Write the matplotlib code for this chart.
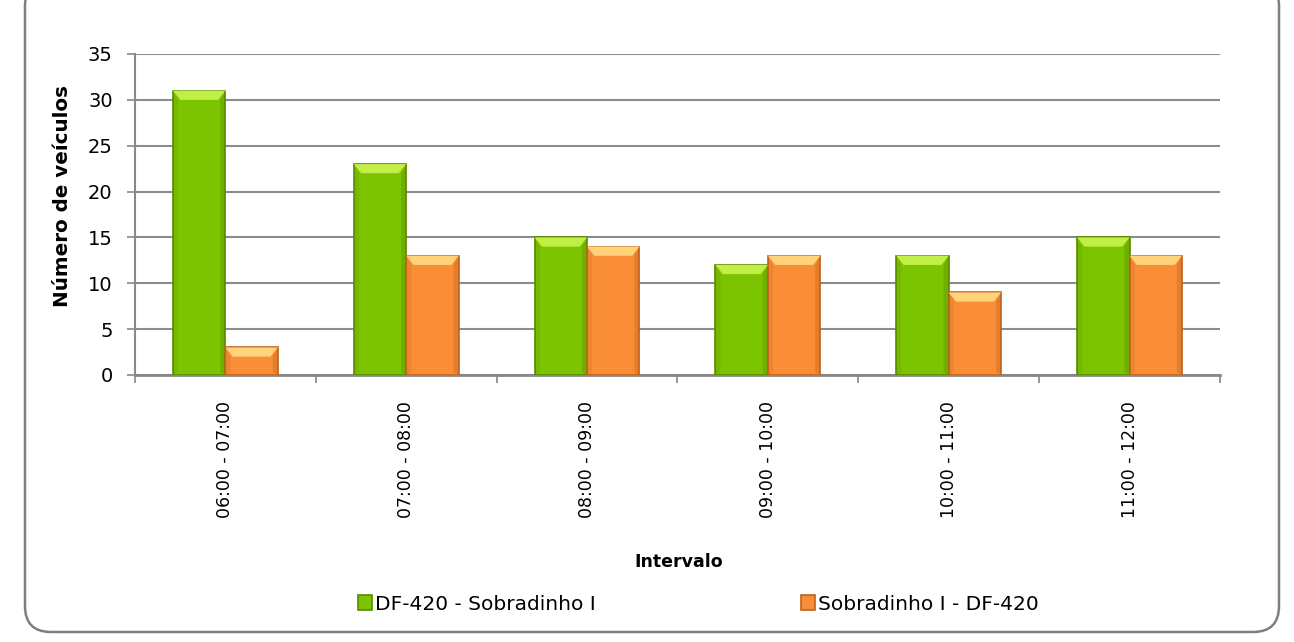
import matplotlib
matplotlib.use("Agg")
import matplotlib.pyplot as plt
import numpy as np
from matplotlib.patches import FancyBboxPatch, Polygon
from matplotlib.transforms import IdentityTransform

categories = ["06:00 - 07:00", "07:00 - 08:00", "08:00 - 09:00",
              "09:00 - 10:00", "10:00 - 11:00", "11:00 - 12:00"]
serie_a = [31, 23, 15, 12, 13, 15]
serie_b = [3, 13, 14, 13, 9, 13]
label_a = "DF-420 - Sobradinho I"
label_b = "Sobradinho I - DF-420"
yticks = [0, 5, 10, 15, 20, 25, 30, 35]

plt.rcParams['font.family'] = ['DejaVu Sans']

fig = plt.figure(figsize=(12.94, 6.42), dpi=100)
ax = fig.add_axes([0.1043, 0.4159, 0.8385, 0.5000])

# rounded outer frame (pixel coordinates, origin bottom-left)
frame = FancyBboxPatch((25, 10), 1279 - 25, 662 - 10,
                       boxstyle="round,pad=0,rounding_size=26",
                       transform=IdentityTransform(), facecolor='white',
                       edgecolor='#7f7f7f', linewidth=1.8, zorder=-10)
fig.patches.append(frame)

x = np.arange(len(categories))
w = 0.29
green_face, green_edge, green_light = '#7cc400', '#5a8a00', '#c2ef45'
orange_face, orange_edge, orange_light = '#f98e36', '#c0621c', '#ffd37a'

bars_a = ax.bar(x - w/2, serie_a, w, color=green_face, edgecolor=green_edge,
                linewidth=1.2, zorder=3, label=label_a)
bars_b = ax.bar(x + w/2, serie_b, w, color=orange_face, edgecolor=orange_edge,
                linewidth=1.2, zorder=3, label=label_b)

# bevel-like highlight on each bar
def bevel(bars, light, dark):
    for b in bars:
        x0, y0 = b.get_x(), b.get_y()
        bw, bh = b.get_width(), b.get_height()
        d = min(1.0, bh * 0.4)
        dx = bw * 0.14
        top = Polygon([[x0, y0 + bh], [x0 + bw, y0 + bh],
                       [x0 + bw - dx, y0 + bh - d], [x0 + dx, y0 + bh - d]],
                      closed=True, facecolor=light, edgecolor='none', zorder=4)
        ax.add_patch(top)
        right = Polygon([[x0 + bw, y0 + bh], [x0 + bw, y0],
                         [x0 + bw - dx * 0.7, y0 + 0.3], [x0 + bw - dx * 0.7, y0 + bh - d]],
                        closed=True, facecolor=dark, alpha=0.35,
                        edgecolor='none', zorder=4)
        ax.add_patch(right)
        left = Polygon([[x0, y0 + bh], [x0, y0],
                        [x0 + dx * 0.7, y0 + 0.3], [x0 + dx * 0.7, y0 + bh - d]],
                       closed=True, facecolor=dark, alpha=0.2,
                       edgecolor='none', zorder=4)
        ax.add_patch(left)

bevel(bars_a, green_light, green_edge)
bevel(bars_b, orange_light, orange_edge)

ax.set_xlim(-0.5, len(categories) - 0.5)
ax.set_ylim(0, 35)
ax.set_yticks(yticks)
ax.tick_params(axis='y', labelsize=14, length=6, color='#888888', width=1.2, pad=10)
ax.set_xticks(x)
ax.set_xticklabels(categories, rotation=90, fontsize=12.5)
ax.tick_params(axis='x', length=0, pad=19)
ax.set_xticks(np.arange(-0.5, len(categories) + 0.5, 1), minor=True)
ax.tick_params(axis='x', which='minor', length=6, color='#888888', width=1.2)

ax.grid(axis='y', color='#8c8c8c', linewidth=1.5, zorder=0)
ax.set_axisbelow(True)
for s in ['top', 'right']:
    ax.spines[s].set_visible(False)
ax.spines['left'].set_color('#888888')
ax.spines['left'].set_linewidth(1.5)
ax.spines['bottom'].set_color('#888888')
ax.spines['bottom'].set_linewidth(2)

ax.set_ylabel("Número de veículos", fontsize=14.3, fontweight='bold')
ax.yaxis.set_label_coords(-0.058, 0.5576)
fig.text(679/1294, 1 - 562/642, "Intervalo", fontsize=12.5, fontweight='bold',
         ha='center', va='center')

for handle, lab, xpix in [(bars_a, label_a, 358), (bars_b, label_b, 801)]:
    fig.legend(handles=[handle], labels=[lab], loc='center left',
               bbox_to_anchor=(xpix/1294, 1 - 604/642), frameon=False,
               fontsize=14.5, handlelength=0.7, handleheight=0.7,
               handletextpad=0.12, borderpad=0, borderaxespad=0)

fig.savefig("out.png", dpi=100)
